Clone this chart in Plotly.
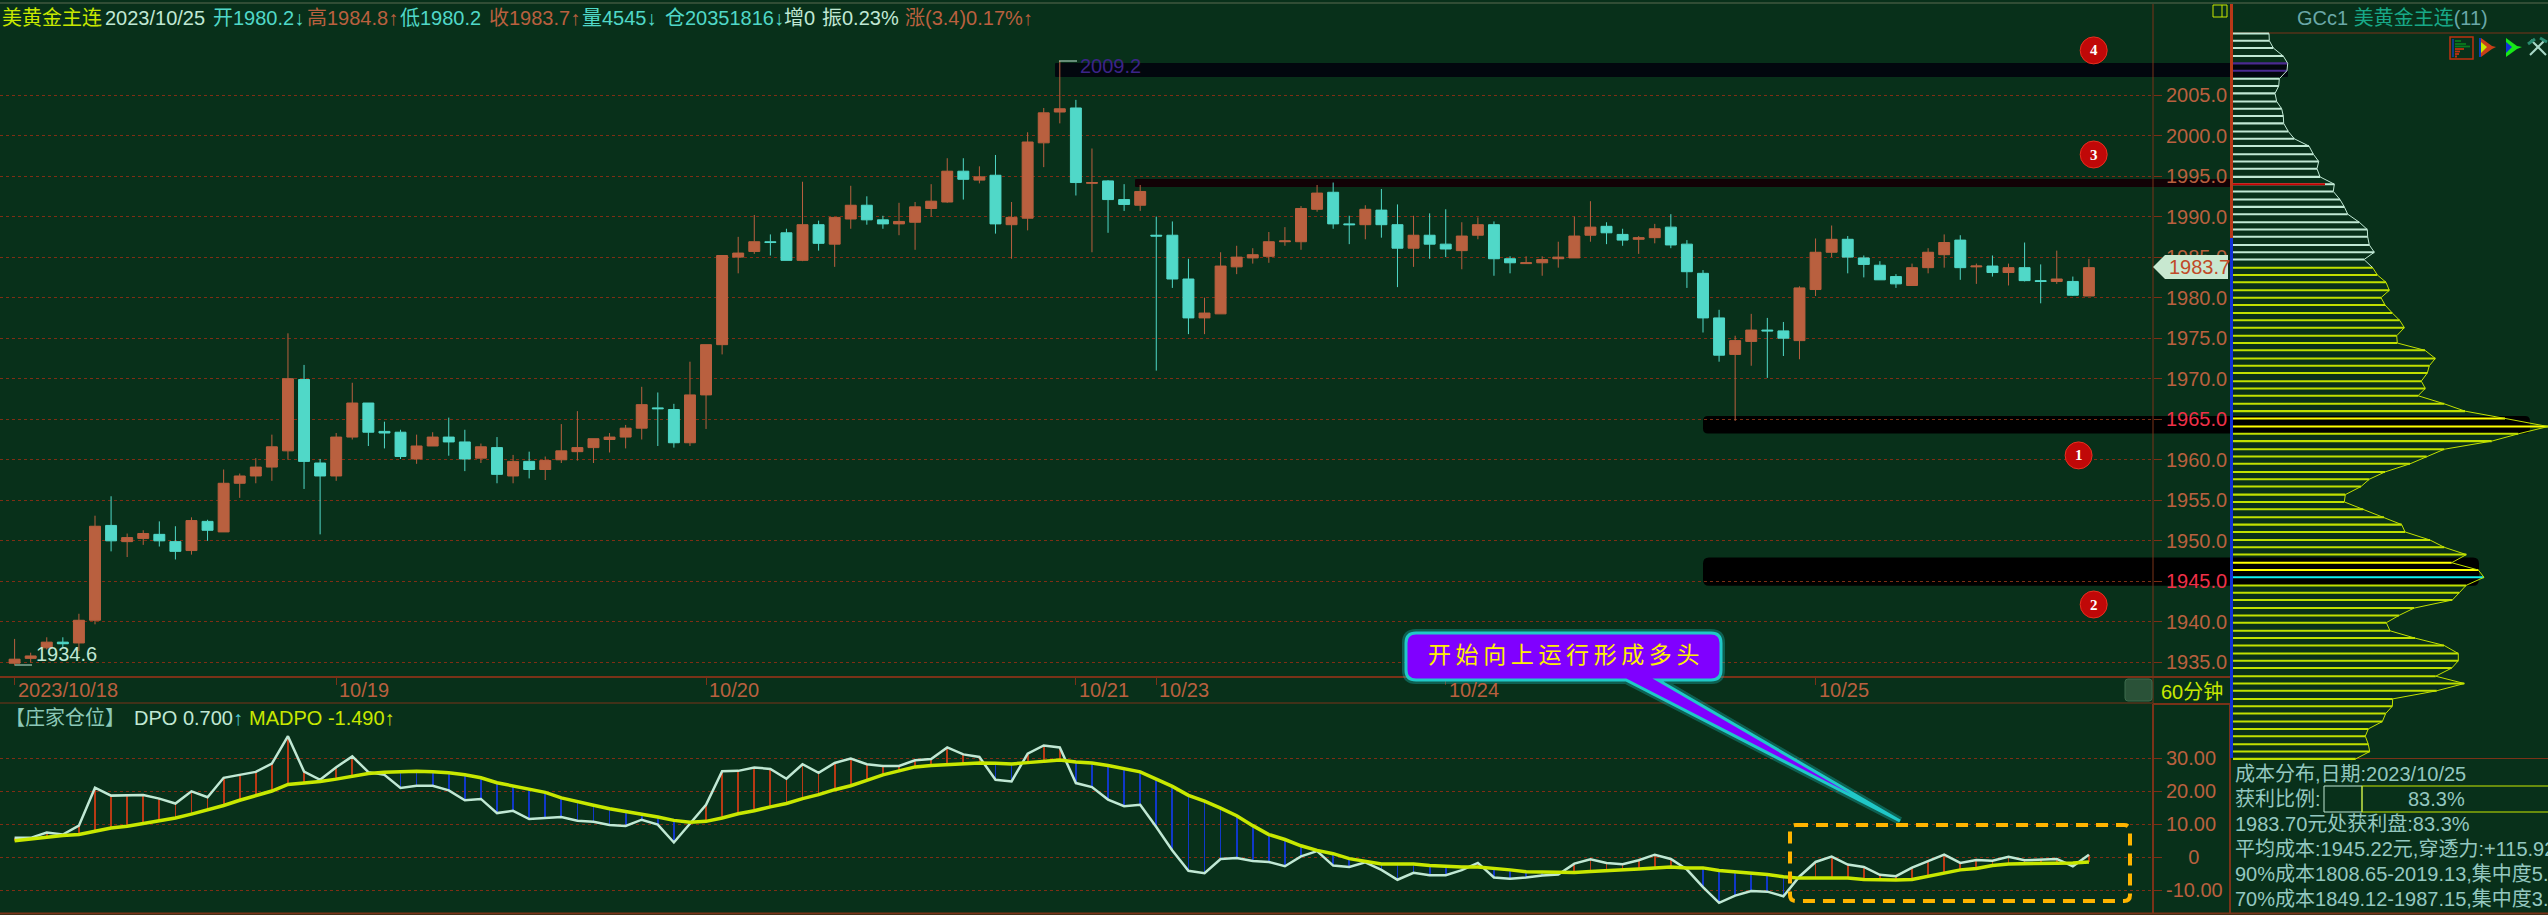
import plotly.graph_objects as go

W, H = 2548, 915
BG = "#08301A"
RUST = "#B9603F"
TEAL = "#50D8C8"
PALE = "#C0E8D4"
LIME = "#C8E800"
GRID = "#7E2E14"
FRAME = "#7A3218"
CJK = "Liberation Sans, Noto Sans CJK SC"

# ---------- candles ----------
opens = [1934.9,1935.5,1936.8,1937.5,1937.4,1940.2,1951.9,1949.9,1950.3,1950.8,1949.9,1948.8,1952.4,1951.1,1957.1,1958.0,1959.1,1961.1,1969.9,1959.6,
         1958.0,1962.8,1967.0,1963.5,1963.4,1960.1,1961.7,1962.8,1962.2,1960.2,1961.5,1958.0,1959.8,1958.8,1960.0,1961.0,1961.5,1962.5,1962.8,1963.9,
         1966.4,1966.2,1962.1,1968.0,1974.2,1985.0,1985.7,1986.9,1988.0,1984.6,1989.0,1986.6,1989.7,1991.4,1989.6,1989.1,1989.3,1991.0,1991.8,1995.6,
         1994.5,1995.1,1989.0,1989.8,1999.1,2002.9,2003.4,1994.1,1994.4,1992.1,1991.4,1987.7,1987.7,1982.3,1977.5,1978.0,1983.8,1984.9,1985.1,1986.9,
         1986.9,1990.9,1993.0,1989.1,1989.0,1990.8,1989.0,1986.1,1987.7,1986.6,1985.8,1987.7,1989.0,1984.8,1984.2,1984.3,1984.8,1984.9,1987.7,1988.8,
         1987.8,1987.2,1987.4,1988.7,1986.6,1983.0,1977.5,1973.0,1974.6,1976.0,1975.9,1974.7,1981.0,1985.6,1987.2,1984.9,1984.0,1982.6,1981.5,1983.7,
         1985.3,1987.1,1983.8,1983.9,1983.1,1983.7,1982.1,1982.0,1982.0,1980.2]
highs = [1937.9,1936.2,1938.1,1938.1,1941.0,1953.1,1955.5,1950.9,1951.3,1952.4,1951.8,1952.9,1952.6,1958.8,1958.3,1960.2,1963.1,1975.6,1971.7,1960.1,
         1963.3,1969.5,1967.0,1964.7,1963.7,1963.1,1963.4,1965.2,1963.7,1962.0,1962.8,1960.6,1961.0,1960.4,1964.4,1966.0,1962.6,1963.3,1964.3,1969.0,
         1968.3,1966.9,1972.1,1974.2,1985.2,1987.5,1990.2,1987.8,1988.5,1994.3,1989.5,1989.9,1993.8,1992.5,1990.1,1991.7,1991.8,1994.0,1997.2,1997.2,
         1996.2,1997.6,1991.8,2000.4,2003.4,2009.2,2004.4,1998.4,1994.5,1994.0,1993.9,1990.0,1989.4,1984.8,1980.0,1985.6,1986.4,1986.1,1988.1,1988.7,
         1991.3,1993.9,1994.2,1990.1,1991.4,1993.4,1991.5,1990.1,1990.4,1990.9,1989.3,1989.9,1989.4,1985.1,1985.1,1985.1,1986.9,1990.0,1991.9,1989.3,
         1988.5,1987.6,1989.1,1990.3,1987.1,1983.4,1978.5,1975.3,1978.0,1977.5,1977.0,1981.4,1987.3,1988.9,1987.6,1985.2,1984.5,1982.9,1984.2,1986.1,
         1987.8,1987.7,1984.2,1985.2,1984.2,1986.8,1984.1,1985.8,1982.6,1984.8]
lows = [1934.6,1935.0,1936.6,1936.9,1936.4,1939.7,1948.7,1948.0,1949.5,1949.3,1947.7,1948.3,1950.0,1951.1,1955.3,1957.1,1957.4,1960.0,1956.4,1950.8,
        1957.4,1962.5,1961.7,1961.4,1960.1,1959.5,1961.7,1960.5,1958.6,1959.6,1957.1,1957.1,1957.7,1957.5,1959.6,1959.9,1959.6,1960.9,1961.4,1962.5,
        1961.7,1961.5,1961.7,1963.8,1973.0,1983.0,1985.4,1985.2,1984.6,1984.5,1985.8,1983.8,1988.5,1989.0,1988.5,1987.7,1985.9,1990.0,1991.7,1992.1,
        1994.1,1987.9,1984.8,1988.3,1996.1,2001.5,1992.6,1985.6,1988.0,1990.7,1990.7,1971.0,1981.2,1975.5,1975.5,1978.0,1982.9,1984.2,1984.3,1986.4,
        1985.9,1990.6,1988.5,1986.6,1987.2,1987.4,1981.3,1983.8,1984.8,1985.0,1983.5,1987.2,1982.7,1983.0,1984.2,1982.7,1983.7,1984.9,1986.9,1986.6,
        1986.4,1985.4,1986.7,1986.1,1981.2,1975.7,1972.1,1964.8,1971.6,1970.1,1972.8,1972.4,1980.2,1985.0,1983.0,1982.5,1982.2,1981.2,1981.5,1983.0,
        1983.7,1982.2,1981.7,1982.6,1981.5,1982.0,1979.3,1981.7,1980.2,1980.2]
closes = [1935.4,1935.8,1937.5,1937.3,1940.2,1951.8,1950.0,1950.4,1950.9,1950.0,1948.7,1952.5,1951.3,1957.1,1958.0,1959.1,1961.6,1970.0,1959.8,1958.0,
          1962.8,1967.0,1963.4,1963.3,1960.4,1961.7,1962.8,1962.2,1960.1,1961.6,1958.2,1959.8,1958.8,1959.9,1961.1,1961.5,1962.6,1962.8,1963.9,1966.8,
          1966.3,1962.1,1968.0,1974.2,1985.2,1985.5,1986.9,1986.8,1984.6,1989.0,1986.7,1989.9,1991.4,1989.6,1989.1,1989.4,1991.2,1991.9,1995.6,1994.6,
          1994.9,1989.1,1989.9,1999.2,2002.8,2003.3,1994.2,1994.2,1992.1,1991.5,1993.1,1987.6,1982.3,1977.5,1978.1,1983.9,1985.0,1985.3,1986.9,1987.0,
          1991.0,1992.9,1989.1,1989.0,1990.9,1989.0,1986.1,1987.7,1986.6,1986.0,1987.6,1989.0,1984.8,1984.3,1984.3,1984.7,1985.0,1987.6,1988.7,1988.0,
          1987.1,1987.4,1988.5,1986.5,1983.2,1977.5,1972.9,1974.7,1976.0,1975.9,1975.0,1981.2,1985.6,1987.2,1985.0,1984.1,1982.2,1981.7,1983.7,1985.6,
          1986.8,1983.7,1983.9,1983.1,1983.7,1982.1,1982.0,1982.3,1980.3,1983.7]

# ---------- indicator ----------
dpo = [5.8,5.8,7.4,6.8,9.5,21.0,18.6,18.8,18.8,17.7,16.2,19.9,18.1,24.0,24.9,25.8,28.3,36.6,25.9,23.4,
       27.2,30.5,25.7,24.9,20.9,21.6,21.6,20.2,17.2,17.6,13.3,14.0,11.5,11.8,12.1,11.0,10.7,9.7,9.4,11.3,
       9.8,4.4,10.1,15.8,26.0,26.1,27.1,26.7,23.7,28.1,25.5,28.5,29.8,28.1,27.6,27.6,29.3,29.7,33.2,31.1,
       30.3,23.4,22.9,31.3,33.8,33.2,22.4,21.2,17.4,15.4,15.8,9.1,2.0,-4.2,-4.9,-0.6,-0.3,-1.2,-1.5,-2.8,
       0.2,1.8,-2.6,-3.0,-1.6,-3.9,-6.9,-4.8,-5.5,-5.5,-4.0,-1.8,-6.2,-6.6,-6.2,-5.6,-5.3,-2.0,-0.7,-1.8,
       -2.2,-1.0,0.7,-0.6,-3.8,-9.1,-13.9,-11.7,-10.3,-10.5,-11.9,-5.9,-1.5,0.1,-2.3,-3.0,-5.4,-5.8,-3.2,-1.2,
       0.7,-1.8,-0.9,-1.1,0.1,-1.0,-0.9,-0.6,-2.8,0.7]
madpo = [4.9,5.5,6.1,6.5,6.8,7.9,8.8,9.3,10.1,11.1,11.8,13.0,14.2,15.6,17.2,18.6,20.0,22.0,22.4,22.9,
         23.6,24.5,25.3,25.7,25.8,26.0,25.8,25.5,24.9,24.0,22.5,21.6,20.7,19.6,17.9,16.7,15.7,14.6,13.8,12.9,
         12.1,11.1,10.5,10.8,11.8,13.1,14.0,15.2,16.2,17.7,18.9,20.4,21.6,23.2,24.9,26.1,27.3,27.7,28.0,28.2,
         28.5,28.4,28.2,28.6,29.1,29.4,28.8,28.5,27.7,26.8,25.8,23.6,21.4,18.7,16.9,14.8,12.5,9.5,6.8,5.3,
         3.4,2.0,1.0,-0.5,-1.4,-2.1,-2.1,-2.1,-2.6,-2.9,-3.0,-3.0,-3.4,-3.9,-4.5,-4.6,-4.8,-4.7,-4.4,-4.2,
         -3.9,-3.6,-3.3,-3.0,-3.3,-3.3,-4.1,-4.5,-4.9,-5.3,-6.0,-6.4,-6.4,-6.4,-6.4,-6.8,-7.0,-7.0,-6.8,-5.9,
         -4.9,-3.9,-3.5,-2.6,-2.1,-2.1,-2.1,-1.9,-1.8,-1.5]

# ---------- cost distribution ----------
profile_levels = [2012.6,2011.7,2010.8,2009.8,2008.9,2008.0,2007.0,2006.1,2005.2,2004.2,
                  2003.3,2002.4,2001.5,2000.5,1999.6,1998.7,1997.7,1996.8,1995.9,1994.9,
                  1994.0,1993.1,1992.1,1991.2,1990.3,1989.3,1988.4,1987.5,1986.5,1985.6,
                  1984.7,1983.7,1982.8,1981.9,1980.9,1980.0,1979.1,1978.1,1977.2,1976.3,
                  1975.3,1974.4,1973.5,1972.5,1971.6,1970.7,1969.7,1968.8,1967.9,1966.9,
                  1966.0,1965.1,1964.1,1963.2,1962.3,1961.3,1960.4,1959.5,1958.5,1957.6,
                  1956.7,1955.7,1954.8,1953.9,1952.9,1952.0,1951.1,1950.1,1949.2,1948.3,
                  1947.3,1946.4,1945.5,1944.5,1943.6,1942.7,1941.7,1940.8,1939.9,1938.9,
                  1938.0,1937.1,1936.1,1935.2,1934.3,1933.3,1932.4,1931.5,1930.5,1929.6,
                  1928.7,1927.7,1926.8,1925.9,1924.9,1924.0,1923.1]
profile_values = [36,36.3,40.3,50.3,54.7,54,46.3,45.7,42,43.7,
                  48.7,50.3,50.7,55.3,61.3,76,80.3,85.7,84,87,
                  101.3,100.3,107,111.3,114.7,126.3,134.3,134.7,136.3,141.3,
                  131,139.7,144.3,153,156.3,148,152,159.3,166.7,171.3,
                  163.7,164.3,192,202.3,196.3,194.3,188.3,192.3,185,211.3,
                  232,272,315,285.3,258.7,211.3,193.7,177,152,136.3,
                  128,112.3,111.3,130.3,151,168.7,172,197,211.3,233.3,
                  218.7,245.3,251,233,226.3,219.3,181,166,153.3,157,
                  182,211,225.3,225.3,218.7,202.7,231.3,203.7,159.7,159.3,
                  152.7,149.3,135.3,132.3,135.3,136.7,122.7]
last_close = 1983.7
avg_cost = 1945.5
hot_levels = [1965.1, 1964.1, 1947.3, 1946.4]
top_levels = [2008.9, 2008.0]
resist_level = 1994.0
resist_value = 92.0

# ---------- labels ----------
date_ticks = [0, 20, 43, 66, 71, 89, 112]
date_labels = ["2023/10/18", "10/19", "10/20", "10/21", "10/23", "10/24", "10/25"]
price_ticks = [1935, 1940, 1945, 1950, 1955, 1960, 1965, 1970, 1975, 1980, 1985, 1990, 1995, 2000, 2005]
red_price_ticks = [1945, 1965]
dpo_ticks = [-10, 0, 10, 20, 30]
dpo_tick_labels = ["-10.00", "\u00a0\u00a0\u00a0\u00a00", "10.00", "20.00", "30.00"]


# ---------- px helpers for layout only ----------
def X(px): return px / W
def Y(py): return 1 - py / H
def price_at(py): return 2005 - (py - 95) / 8.106
def dpo_at(py): return 30 - (py - 758) / 3.3
def idx_at(px): return (px - 14.6) / 16.08


def rrect(x0, y0, x1, y1, r):
    pts = [f"M{X(x0+r)},{Y(y0)}", f"L{X(x1-r)},{Y(y0)}", f"Q{X(x1)},{Y(y0)} {X(x1)},{Y(y0+r)}",
           f"L{X(x1)},{Y(y1-r)}", f"Q{X(x1)},{Y(y1)} {X(x1-r)},{Y(y1)}", f"L{X(x0+r)},{Y(y1)}",
           f"Q{X(x0)},{Y(y1)} {X(x0)},{Y(y1-r)}", f"L{X(x0)},{Y(y0+r)}", f"Q{X(x0)},{Y(y0)} {X(x0+r)},{Y(y0)}", "Z"]
    return " ".join(pts)


shapes = []
def rect(x0, y0, x1, y1, fill=None, line=None, lw=1, layer="below"):
    shapes.append(dict(type="rect", xref="paper", yref="paper", x0=X(x0), x1=X(x1), y0=Y(y0), y1=Y(y1),
                       fillcolor=fill or "rgba(0,0,0,0)", layer=layer,
                       line=dict(color=line or "rgba(0,0,0,0)", width=lw if line else 0)))
def seg(x0, y0, x1, y1, color, lw=1, layer="below"):
    shapes.append(dict(type="line", xref="paper", yref="paper", x0=X(x0), x1=X(x1), y0=Y(y0), y1=Y(y1),
                       layer=layer, line=dict(color=color, width=lw)))
def path(d, fill=None, line=None, lw=1, layer="above", dash=None):
    shapes.append(dict(type="path", xref="paper", yref="paper", path=d, fillcolor=fill or "rgba(0,0,0,0)", layer=layer,
                       line=dict(color=line or "rgba(0,0,0,0)", width=lw if line else 0, dash=dash)))


annots = []
def text(x, y, s, color, size=20, anchor="left", family=CJK):
    annots.append(dict(xref="paper", yref="paper", x=X(x), y=Y(y), text=s, showarrow=False, xanchor=anchor,
                       yanchor="middle", font=dict(color=color, size=size, family=family), borderpad=0))


# black zones (drawn beneath everything)
path(rrect(1055, 63, 2288, 77, 1), fill="#02070E", layer="below")
path(rrect(1135, 179, 2233, 187, 1), fill="#120206", layer="below")
path(rrect(1703, 416, 2530, 433.5, 5), fill="#000000", layer="below")
path(rrect(1703, 557.6, 2479, 585.7, 6), fill="#000000", layer="below")

# frame
seg(0, 3, W, 3, "#5A6A50", 1)
seg(2153, 4, 2153, 703, FRAME, 1)
seg(0, 677, 2233, 677, FRAME, 2)
seg(0, 703, 2153, 703, FRAME, 1)
seg(0, 913.5, W, 913.5, FRAME, 2)
seg(2153, 704, 2230, 704, FRAME, 2)
seg(2153, 704, 2153, 913, FRAME, 2)
seg(2230, 704, 2230, 913, FRAME, 2)
seg(2233, 33, W, 33, FRAME, 1)
seg(2233, 758.5, W, 758.5, FRAME, 1)
seg(2231.5, 4, 2231.5, 238, "#B83818", 3, layer="above")
seg(2231.5, 238, 2231.5, 758, "#1030D8", 3, layer="above")
path(rrect(2125, 679, 2152, 701, 3), fill="#2A5238", line="#3C6A4C", lw=1, layer="below")

# corner glyph
rect(2213, 5, 2227, 17, line=LIME, lw=1, layer="above")
seg(2222, 5, 2222, 17, LIME, 1, layer="above")

# last price tag
path(f"M{X(2153)},{Y(267)} L{X(2165)},{Y(255)} L{X(2228)},{Y(255)} L{X(2228)},{Y(279)} L{X(2165)},{Y(279)} Z", fill="#C8E8D0")

# extreme-value leaders
seg(15, 665, 32, 665, PALE, 1, layer="above")
seg(1059, 61, 1077, 61, PALE, 1, layer="above")

# callout
tip_path = (f"M{X(1416)},{Y(633)} L{X(1711)},{Y(633)} Q{X(1721)},{Y(633)} {X(1721)},{Y(643)} L{X(1721)},{Y(670)} "
            f"Q{X(1721)},{Y(680)} {X(1711)},{Y(680)} L{X(1658)},{Y(680)} L{X(1900)},{Y(821)} L{X(1626)},{Y(680)} "
            f"L{X(1416)},{Y(680)} Q{X(1406)},{Y(680)} {X(1406)},{Y(670)} L{X(1406)},{Y(643)} Q{X(1406)},{Y(633)} {X(1416)},{Y(633)} Z")
path(tip_path, line="rgba(30,210,210,0.30)", lw=8)
path(tip_path, fill="#8000FF", line="#20C8C8", lw=3)

# dashed box
path(rrect(1790, 825, 2130, 901, 6), line="#FFB400", lw=4, dash="12px,8px")

# numbered markers
for cx, cy, n in [(2093.7, 50.4, "4"), (2093.7, 154.5, "3"), (2078.6, 455.4, "1"), (2093.7, 604.5, "2")]:
    shapes.append(dict(type="circle", xref="paper", yref="paper", x0=X(cx-13.5), x1=X(cx+13.5), y0=Y(cy-13.5), y1=Y(cy+13.5),
                       fillcolor="#C00808", line=dict(color="#E83020", width=1), layer="above"))
    text(cx, cy, f"<b>{n}</b>", "#FFFFFF", 15, "center", "Liberation Serif")

# toolbar icons
rect(2450, 37, 2473, 59, line="#C03010", lw=1.5, layer="above")
seg(2453, 39, 2453, 57, "#0C3C88", 2, layer="above")
for y0, x1, c in [(41, 2461, "#0A7A1E"), (44, 2466, "#0A7A1E"), (46.5, 2470, "#0A7A1E"), (49, 2464, "#C03010"),
                  (51.5, 2460, "#C03010"), (54, 2459, "#C03010"), (56.5, 2457, "#C03010")]:
    seg(2455, y0, x1, y0, c, 1.8, layer="above")
seg(2480, 38, 2480, 57, "#0C3CB8", 2, layer="above")
path(f"M{X(2481)},{Y(38)} L{X(2492)},{Y(46)} L{X(2496)},{Y(47)} L{X(2492)},{Y(49)} L{X(2481)},{Y(57)} Z", fill="#C84018")
path(f"M{X(2481)},{Y(42)} L{X(2487)},{Y(47)} L{X(2481)},{Y(53)} Z", fill=LIME)
path(f"M{X(2506)},{Y(38)} L{X(2517)},{Y(46)} L{X(2522)},{Y(47)} L{X(2517)},{Y(49)} L{X(2506)},{Y(57)} Z", fill="#18E818")
path(f"M{X(2506)},{Y(42)} L{X(2512)},{Y(47)} L{X(2506)},{Y(53)} Z", fill="#1030D8")
seg(2530, 55, 2545, 40, "#A8D8C8", 2, layer="above")
seg(2531, 40, 2546, 55, "#A8D8C8", 2, layer="above")
seg(2528, 44, 2535, 39, "#2A8A70", 3, layer="above")
seg(2540, 38, 2547, 42, "#2A8A70", 3, layer="above")

# profile-box meter
rect(2324, 786, 2362, 812, line=PALE, lw=1, layer="above")
rect(2362, 786, 2560, 812, line=LIME, lw=1, layer="above")

# header
for x, s, c in [(1, "美黄金主连", LIME), (104, "2023/10/25", PALE),
                (212, "开<span style='color:#50D8C8'>1980.2</span>↓", TEAL),
                (306, "高1984.8↑", RUST), (399, "低1980.2", TEAL), (488, "收1983.7↑", RUST),
                (581, "量4545↓", TEAL), (664, "仓20351816↓", TEAL), (783, "增0", PALE),
                (821, "振0.23%", PALE), (904, "涨(3.4)0.17%↑", RUST)]:
    text(x, 18, s, c)

# side header
text(2296, 18, "<span style='color:#6AA8A8'>GCc1</span> <span style='color:#18A888'>美黄金主连</span><span style='color:#6AA8A8'>(11)</span>", "#6AA8A8")

# extreme labels
text(35, 654, "1934.6", PALE)
text(1079, 66, "2009.2", "#3C2488")

# date labels: anchored on the candle index of each tick
for tick, lab in zip(date_ticks, date_labels):
    annots.append(dict(xref="x", yref="paper", x=tick, y=Y(690), text=lab, showarrow=False, xanchor="left", xshift=2,
                       yanchor="middle", font=dict(color=RUST, size=20, family=CJK), borderpad=0))

text(2160, 692, "60分钟", LIME)
text(2168, 267, "1983.7", "#C04A28")

# indicator title
text(4, 718, "【庄家仓位】", "#8CC8B8", 20)
text(133, 718, "DPO 0.700<span style='color:#50C8D8'>↑</span>", PALE)
text(248, 718, "MADPO -1.490↑", LIME)

# callout text
text(1563, 655, "\u2009".join("开始向上运行形成多头"), "#FFF000", 23, "center")

# info block
INFO = "#94C8C0"
text(2234, 774, "成本分布,日期:2023/10/25", INFO)
text(2234, 799, "获利比例:", INFO)
text(2436, 799, "83.3%", INFO, 20, "center")
text(2234, 824, "1983.70元处获利盘:83.3%", INFO)
text(2234, 849, "平均成本:1945.22元,穿透力:+115.92%", INFO)
text(2234, 874, "90%成本1808.65-2019.13,集中度5.50%", INFO)
text(2234, 899, "70%成本1849.12-1987.15,集中度3.60%", INFO)

# ---------- traces ----------
fig = go.Figure()
n = list(range(len(opens)))
fig.add_trace(go.Candlestick(x=n, open=opens, high=highs, low=lows, close=closes, xaxis="x", yaxis="y",
                             whiskerwidth=0,
                             increasing=dict(line=dict(color=RUST, width=1), fillcolor=RUST),
                             decreasing=dict(line=dict(color=TEAL, width=1), fillcolor=TEAL),
                             hoverinfo="skip", showlegend=False))

gap = [d - m for d, m in zip(dpo, madpo)]
fig.add_trace(go.Bar(x=n, y=gap, base=madpo, width=0.05, xaxis="x2", yaxis="y2", showlegend=False, hoverinfo="skip",
                     marker=dict(color=["#B83A14" if g > 0 else "#1038C8" for g in gap], line=dict(width=0))))
fig.add_trace(go.Scatter(x=n, y=dpo, mode="lines", xaxis="x2", yaxis="y2", showlegend=False, hoverinfo="skip",
                         line=dict(color=PALE, width=2.5)))
fig.add_trace(go.Scatter(x=n, y=madpo, mode="lines", xaxis="x2", yaxis="y2", showlegend=False, hoverinfo="skip",
                         line=dict(color=LIME, width=3.5)))


def profile_color(level):
    if level == avg_cost:
        return "#10F0F0"
    if level in hot_levels:
        return "#FFFF00"
    if level in top_levels:
        return "#4A2A90"
    return PALE if level > last_close else "#C0E000"


fig.add_trace(go.Bar(y=profile_levels, x=profile_values, orientation="h", width=0.25, xaxis="x3", yaxis="y3",
                     showlegend=False, hoverinfo="skip",
                     marker=dict(color=[profile_color(v) for v in profile_levels], line=dict(width=0))))
fig.add_trace(go.Bar(y=[resist_level], x=[resist_value], orientation="h", width=0.25, xaxis="x3", yaxis="y3",
                     showlegend=False, hoverinfo="skip", marker=dict(color="#C80000", line=dict(width=0))))
split = profile_levels.index(last_close)
fig.add_trace(go.Scatter(x=profile_values[:split + 1], y=profile_levels[:split + 1], mode="lines", xaxis="x3", yaxis="y3",
                         showlegend=False, hoverinfo="skip", line=dict(color=PALE, width=1)))
fig.add_trace(go.Scatter(x=profile_values[split:], y=profile_levels[split:], mode="lines", xaxis="x3", yaxis="y3",
                         showlegend=False, hoverinfo="skip", line=dict(color="#C0E000", width=1)))

price_text = [f"<span style='color:#F03048'>{p}.0</span>" if p in red_price_ticks else f"{p}.0" for p in price_ticks]
tickfont = dict(family="Liberation Sans", size=20, color=RUST)
xr = [idx_at(0), idx_at(2153)]

fig.update_layout(
    width=W, height=H, autosize=False, margin=dict(l=0, r=0, t=0, b=0, pad=0),
    paper_bgcolor=BG, plot_bgcolor=BG, showlegend=False, barmode="overlay", hovermode=False,
    boxgap=0.32, boxgroupgap=0, boxmode="overlay",
    shapes=shapes, annotations=annots, font=dict(family=CJK),
    xaxis=dict(domain=[0, X(2153)], range=xr, rangeslider=dict(visible=False), anchor="y",
               tickmode="array", tickvals=date_ticks, ticks="outside", ticklen=7, tickcolor=FRAME, tickwidth=1,
               showticklabels=False, showgrid=False, zeroline=False),
    yaxis=dict(domain=[Y(677), Y(4)], range=[price_at(677), price_at(4)], side="right", anchor="x",
               tickmode="array", tickvals=price_ticks, ticktext=price_text, tickfont=tickfont,
               ticks="outside", ticklen=8, tickcolor=GRID, tickwidth=1,
               showgrid=True, gridcolor=GRID, griddash="dot", gridwidth=1, zeroline=False, showline=False),
    xaxis2=dict(domain=[0, X(2153)], range=xr, anchor="y2", showticklabels=False, ticks="", showgrid=False, zeroline=False),
    yaxis2=dict(domain=[Y(913), Y(704)], range=[dpo_at(913), dpo_at(704)], side="right", anchor="x2",
                tickmode="array", tickvals=dpo_ticks, ticktext=dpo_tick_labels, tickfont=tickfont,
                ticks="outside", ticklen=8, tickcolor=GRID, tickwidth=1,
                showgrid=True, gridcolor=GRID, griddash="dot", gridwidth=1, zeroline=False, showline=False),
    xaxis3=dict(domain=[X(2233), 1], range=[0, 315], anchor="y3", visible=False),
    yaxis3=dict(domain=[Y(762), Y(28)], range=[price_at(762), price_at(28)], anchor="x3", visible=False),
)

fig.write_html("out.html", config={"displayModeBar": False},
               post_script="document.body.style.margin='0';document.body.style.overflow='hidden';")
